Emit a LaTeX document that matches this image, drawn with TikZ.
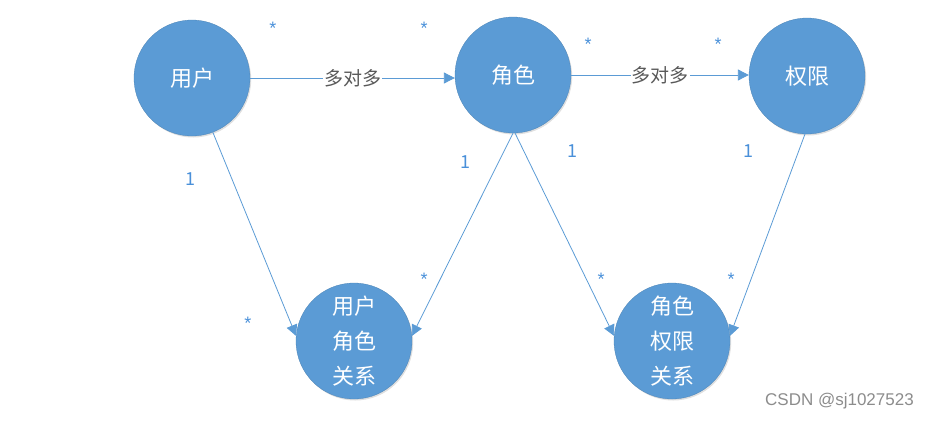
\documentclass[tikz,border=0pt]{standalone}
\usepackage{fontspec}
\setmainfont{Liberation Sans}
\newfontfamily\cjk{Noto Sans CJK SC}
\usetikzlibrary{arrows.meta,shadows}
\definecolor{obl}{HTML}{5B9BD5}
\definecolor{lbl}{HTML}{4A90D9}
\tikzset{
  ent/.style={circle, fill=obl, draw=obl!85!black, line width=0.3pt, minimum size=116pt, inner sep=0pt,
    text=white, font=\cjk\fontsize{22}{35}\selectfont, align=center,
    drop shadow={opacity=0.25, shadow xshift=1.2pt, shadow yshift=-1.5pt}},
  conn/.style={draw=obl, line width=0.8pt, -{Triangle[length=11pt,width=11pt]}},
  mid/.style={fill=white, inner sep=1pt, text=black!65, font=\cjk\fontsize{19}{20}\selectfont},
  num/.style={text=lbl, font=\cjk\fontsize{18}{20}\selectfont, inner sep=0pt},
  star/.style={text=lbl, font=\fontsize{18}{18}\selectfont, inner sep=0pt, anchor=center},
}
\begin{document}
\begin{tikzpicture}[x=1pt,y=-1pt]
\useasboundingbox (0,0) rectangle (930,421);
\node[ent] (u) at (192,78) {用户};
\node[ent] (r) at (513,75) {角色};
\node[ent] (p) at (807,76) {权限};
\node[ent] (ur) at (354,341) {用户\\角色\\关系};
\node[ent] (rp) at (672,341) {角色\\权限\\关系};

\draw[conn] (u.east) -- node[mid] (l1) {多对多} (u.east -| r.west);
\draw[conn] (r.east) -- node[mid] (l2) {多对多} (r.east -| p.west);
\draw[conn] (u.-69) -- (ur.175);
\draw[conn] (r.-90) -- (ur.5);
\draw[conn] (r.-88) -- (rp.175);
\draw[conn] (p.-92) -- (rp.5);

\node[star] (s1) at (273,28) {*};
\node[star] (s2) at (424,28) {*};
\node[star] (s3) at (588,44) {*};
\node[star] (s4) at (718,44) {*};
\node[star] (s5) at (248,323) {*};
\node[star] (s6) at (424,279) {*};
\node[star] (s7) at (601,279) {*};
\node[star] (s8) at (731,279) {*};

\node[num] (n1) at (190,179) {1};
\node[num] (n2) at (465,162) {1};
\node[num] (n3) at (572,151) {1};
\node[num] (n4) at (748,151) {1};

\node[anchor=east, text=black!45, font=\fontsize{17}{18}\selectfont, inner sep=0pt] (csdn) at (914,401) {CSDN @sj1027523};
\end{tikzpicture}
\end{document}
